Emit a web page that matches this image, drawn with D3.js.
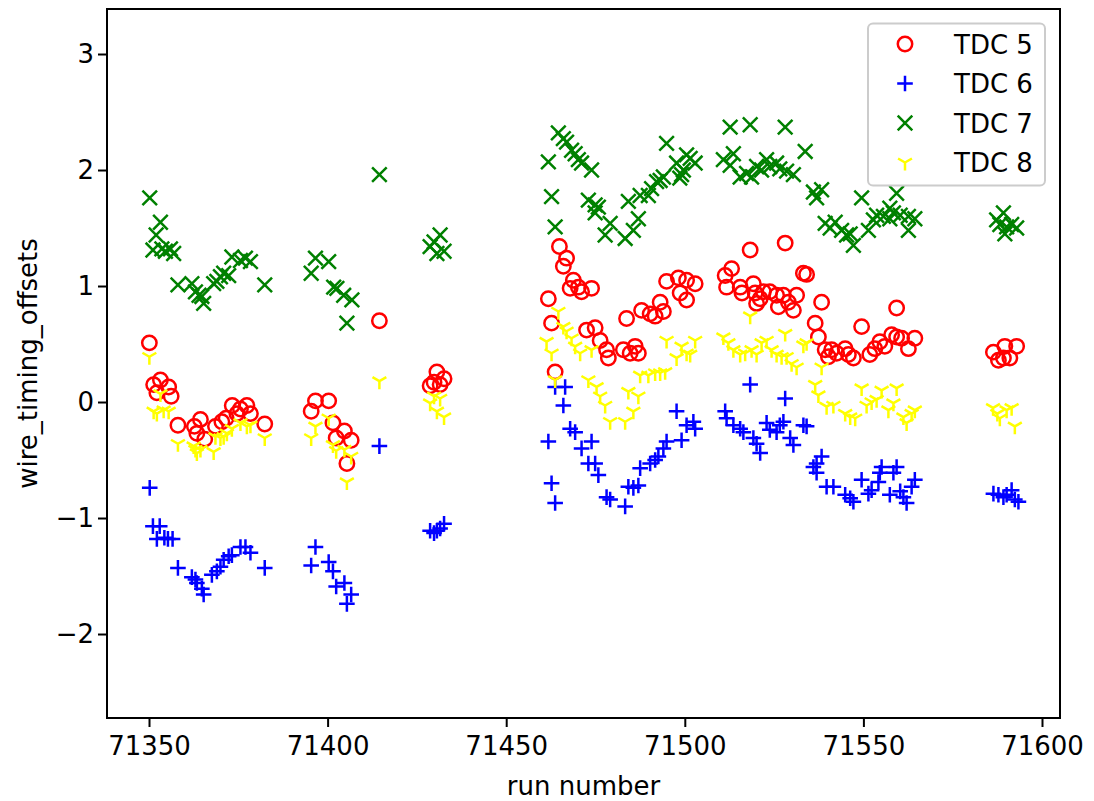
<!DOCTYPE html>
<html>
<head>
<meta charset="utf-8">
<script src="https://cdn.jsdelivr.net/npm/d3@7"></script>
<style>
  html, body { margin: 0; padding: 0; background: #fff; }
  svg { display: block; font-family: "DejaVu Sans", sans-serif; }
</style>
</head>
<body>
<svg id="chart" width="1094" height="801"></svg>
<script>
// ---------- data ----------
const seriesNames = ["TDC 5", "TDC 6", "TDC 7", "TDC 8"];
const xTicks = [71350, 71400, 71450, 71500, 71550, 71600];
const yTicks = [-2, -1, 0, 1, 2, 3];

const runs5 = [71350.1,71351.3,71352.2,71353.2,71355.5,71356.2,71358.1,71362.7,71363.4,71364.4,71365.6,71368.6,71370.4,71371.6,71373.3,71374.6,71375.6,71377.4,71378.4,71382.4,
  71395.4,71396.6,71400.3,71401.5,71402.4,71404.7,71405.4,71406.6,71414.5,
  71428.7,71429.8,71430.6,71431.5,71432.6,
  71461.8,71462.7,71463.7,71464.9,71466,71466.9,71467.9,71468.8,71470.2,71471.1,71472.5,71473.9,71474.9,71476.3,71478.1,71478.6,71482.8,71483.7,71484.7,71486.1,71487,71487.9,71490.3,71491.7,71493.1,71494,71494.9,71498.2,71498.7,71500.5,71500.5,71502.9,
  71511.3,71511.7,71513.1,71515.5,71516,71518.3,71519.2,71519.7,71520.1,71521.1,71522,71523.8,71525.7,71526.2,71527.6,71528.1,71529,71530.4,71531.3,71533.2,71534.1,71536.5,71537.4,71538.3,71539.3,71540.2,71541.1,71542.5,71544.9,71545.8,71547.2,71549.5,71551.8,71553.2,71554.6,71556,71557.9,71559.3,71559.3,71560.7,71562.6,71564.4,
  71586.4,71587.8,71589.2,71589.6,71591,71592.9];
const vals5 = [0.51,0.15,0.08,0.19,0.13,0.05,-0.20,-0.21,-0.27,-0.15,-0.32,-0.21,-0.17,-0.14,-0.03,-0.10,-0.06,-0.03,-0.10,-0.19,
  -0.08,0.01,0.01,-0.18,-0.31,-0.25,-0.53,-0.33,0.70,
  0.14,0.17,0.26,0.15,0.20,
  0.89,0.68,0.26,1.34,1.17,1.24,0.98,1.05,0.99,0.95,0.62,0.98,0.64,0.53,0.45,0.38,0.45,0.72,0.42,0.48,0.42,0.79,0.76,0.74,0.86,0.78,1.04,1.07,0.94,1.05,0.88,1.02,
  1.09,0.99,1.15,0.99,0.94,1.31,1.02,0.94,0.85,0.89,0.95,0.95,0.92,0.82,0.92,1.37,0.86,0.79,0.92,1.11,1.10,0.68,0.56,0.86,0.45,0.39,0.45,0.42,0.46,0.41,0.38,0.65,0.41,0.46,0.52,0.48,0.58,0.81,0.56,0.55,0.46,0.55,
  0.43,0.36,0.38,0.48,0.38,0.48];

const runs6 = [71350.2,71351.1,71352.2,71353,71354.3,71355.3,71356.6,71358.1,71362,71363,71363.4,71364.8,71365.3,71367.6,71369,71370,71370.9,71372.3,71373.2,71375.6,71377,71378.4,71382.4,
  71395.4,71396.6,71400.3,71401.5,71402.4,71404.7,71405.4,71406.6,71414.5,
  71428.7,71429.8,71430.6,71431.5,71432.6,
  71461.8,71462.7,71463.7,71463.7,71466,71466.5,71467.9,71469.3,71471.1,71473,71473.9,71474.9,71475.8,71478.1,71479.1,71483.3,71484.2,71485.6,71487,71487.5,71490.3,71491.7,71492.6,71494,71494.9,71497.7,71499.1,71500.5,71502.4,71502.9,
  71511.3,71511.7,71513.6,71515.5,71516.4,71518.3,71519.2,71520.1,71521.1,71522.9,71523.8,71525.7,71526.6,71527.6,71528.1,71529.5,71530.4,71533.2,71534.1,71536,71536.9,71536.9,71538.3,71539.7,71541.6,71544.9,71546.3,71547.2,71549.5,71551.4,71552.3,71554.2,71554.6,71555.1,71557.4,71558.4,71559.3,71560.3,71561.2,71562.1,71563.5,71564.4,
  71586.4,71587.8,71589.2,71590.1,71591.5,71592.4,71593.4];
const vals6 = [-0.74,-1.07,-1.18,-1.07,-1.17,-1.18,-1.18,-1.43,-1.51,-1.53,-1.56,-1.61,-1.66,-1.49,-1.46,-1.42,-1.36,-1.33,-1.32,-1.25,-1.25,-1.30,-1.43,
  -1.41,-1.25,-1.38,-1.46,-1.59,-1.56,-1.74,-1.66,-0.38,
  -1.11,-1.13,-1.11,-1.09,-1.05,
  -0.34,-0.70,-0.87,0.13,-0.03,0.13,-0.23,-0.26,-0.40,-0.53,-0.34,-0.53,-0.63,-0.82,-0.84,-0.90,-0.73,-0.74,-0.72,-0.57,-0.53,-0.50,-0.47,-0.40,-0.34,-0.08,-0.33,-0.20,-0.17,-0.23,
  -0.08,-0.14,-0.20,-0.23,-0.26,0.15,-0.31,-0.36,-0.44,-0.18,-0.24,-0.26,-0.20,-0.17,0.03,-0.31,-0.37,-0.20,-0.21,-0.56,-0.53,-0.61,-0.47,-0.73,-0.73,-0.80,-0.83,-0.86,-0.67,-0.79,-0.76,-0.69,-0.61,-0.56,-0.80,-0.61,-0.56,-0.77,-0.82,-0.87,-0.73,-0.67,
  -0.79,-0.80,-0.82,-0.80,-0.76,-0.84,-0.86];

const runs7 = [71350.2,71351.1,71352,71353.2,71353.6,71354.6,71356,71356.9,71358.1,71362,71363,71364,71364.8,71365.3,71368.1,71369,71370,71370.9,71372.3,71373.2,71375.6,71377,71378.4,71382.4,
  71395.4,71396.6,71400.3,71401.7,71402.6,71404.5,71405.4,71406.8,71414.5,
  71428.7,71429.8,71430.6,71431.5,71432.6,
  71461.8,71462.7,71463.7,71464.6,71466,71466.9,71468.3,71469.3,71470.2,71471.1,71473,71473.9,71474.9,71474.9,71475.8,71477.7,71479.1,71483.3,71484.2,71485.6,71487,71487.5,71489.8,71490.7,71492.1,71493.1,71494,71494.9,71497.7,71498.6,71499.1,71499.6,71500.5,71501.5,71502.9,
  71510.8,71512.7,71512.7,71513.6,71515.5,71517.3,71518.3,71518.7,71520.1,71521.5,71522.9,71523.8,71525.7,71526.6,71528.1,71528.5,71530.4,71533.7,71536,71536.9,71538.3,71539.3,71540.7,71542.1,71543.9,71545.3,71546.3,71547.2,71549.5,71551.4,71552.8,71553.7,71555.6,71557.4,71557.4,71558.4,71559.3,71560.3,71562.6,71562.6,71564.4,
  71587.3,71588.2,71589.2,71589.6,71590.1,71591.5,71592.9];
const vals7 = [1.76,1.31,1.44,1.55,1.32,1.30,1.32,1.28,1.01,1.02,0.95,0.92,0.91,0.85,1.02,1.04,1.08,1.11,1.09,1.25,1.22,1.24,1.21,1.01,
  1.11,1.24,1.21,0.99,0.98,0.92,0.68,0.88,1.96,
  1.34,1.38,1.28,1.44,1.30,
  2.07,1.77,1.51,2.32,2.27,2.24,2.17,2.14,2.09,2.06,1.74,2.00,1.70,1.63,1.68,1.44,1.54,1.41,1.73,1.48,1.58,1.78,1.78,1.84,1.90,1.91,1.94,2.23,2.06,1.93,1.96,2.00,2.13,2.10,2.06,
  2.09,2.37,2.04,2.14,1.94,1.97,2.39,1.94,2.03,2.00,2.09,2.03,2.06,2.01,2.37,1.99,1.96,2.16,1.81,1.76,1.83,1.54,1.50,1.55,1.48,1.44,1.45,1.35,1.76,1.48,1.57,1.61,1.60,1.58,1.67,1.63,1.80,1.61,1.60,1.48,1.58,
  1.57,1.53,1.63,1.45,1.51,1.53,1.50];

const runs8 = [71350.1,71351.3,71352.2,71353.2,71354.1,71355.5,71358.1,71362.5,71363,71363.4,71364.4,71368.1,71368.6,71370,71370.9,71371.8,71373.2,71375.6,71377.4,71378.4,71382.4,
  71395.4,71396.6,71400.3,71401.5,71402.4,71404.7,71405.4,71406.6,71414.5,
  71428.7,71429.8,71430.6,71431.5,71432.6,
  71461.3,71462.7,71463.7,71464.6,71466,71466.9,71468.3,71469.3,71470.7,71473,71473.9,71475.3,71476.3,71477.7,71479.1,71483.3,71484.2,71485.6,71487,71487.5,71489.8,71491.7,71493.1,71494.5,71494.9,71497.7,71499.1,71500.5,71501.5,71502.9,
  71510.8,71512.2,71513.6,71515.5,71516.9,71518.3,71518.7,71520.1,71521.5,71522.9,71524.3,71525.7,71527.1,71528.1,71528.5,71529.9,71531.3,71533.2,71534.1,71536.5,71537.4,71538.3,71539.7,71541.6,71544.9,71546.3,71547.7,71549.5,71550.9,71552.3,71553.7,71555.1,71557,71558.4,71559.3,71561.2,71562.1,71563.5,71564.4,
  71586.3,71587.5,71588.2,71590.1,71591.5,71592.4];
const vals8 = [0.39,-0.08,-0.10,0.07,-0.07,-0.08,-0.36,-0.38,-0.41,-0.44,-0.41,-0.43,-0.30,-0.31,-0.30,-0.27,-0.23,-0.18,-0.21,-0.20,-0.31,
  -0.31,-0.21,-0.14,-0.37,-0.42,-0.41,-0.69,-0.47,0.18,
  -0.01,0.05,-0.08,0.03,-0.13,
  0.52,0.42,0.19,0.78,0.65,0.61,0.55,0.48,0.42,0.19,0.45,0.13,0.05,-0.03,-0.17,-0.17,0.09,-0.08,0.05,0.23,0.23,0.25,0.25,0.26,0.53,0.38,0.48,0.42,0.41,0.53,
  0.56,0.51,0.45,0.41,0.42,0.74,0.45,0.41,0.51,0.53,0.45,0.41,0.39,0.59,0.39,0.33,0.30,0.49,0.51,0.15,0.06,0.30,-0.04,-0.03,-0.10,-0.13,-0.14,0.12,-0.03,0.00,0.02,0.10,-0.07,-0.01,0.12,-0.13,-0.18,-0.10,-0.07,
  -0.05,-0.10,-0.14,-0.07,-0.05,-0.21];

const seriesColors = ["#ff0000", "#0000ff", "#008000", "#ffff00"];
const seriesShapes = ["circle", "plus", "x", "tri"];

// ---------- layout ----------
const plot = { left: 107, right: 1060, top: 9, bottom: 718 };
const svg = d3.select("#chart");

const x = d3.scaleLinear().domain([71338.24, 71605.04]).range([plot.left, plot.right]);
const y = d3.scaleLinear().domain([-2.724, 3.388]).range([plot.bottom, plot.top]);

const circ = d3.path(); circ.arc(0, 0, 7.2, 0, 2 * Math.PI); circ.closePath();
const markerPath = {
  circle: circ.toString(),
  plus: "M-7.8,0H7.8M0,-7.8V7.8",
  x: "M-7.3,-7.3L7.3,7.3M-7.3,7.3L7.3,-7.3",
  tri: "M0,0V8M0,0L-6.93,-4M0,0L6.93,-4"
};

const series = [
  { runs: runs5, vals: vals5 },
  { runs: runs6, vals: vals6 },
  { runs: runs7, vals: vals7 },
  { runs: runs8, vals: vals8 }
];

// points
const gPts = svg.append("g");
series.forEach((s, i) => {
  const pts = s.runs.map((r, k) => ({ r, v: s.vals[k] }));
  gPts.append("g")
    .selectAll("path")
    .data(pts)
    .join("path")
    .attr("d", markerPath[seriesShapes[i]])
    .attr("transform", d => `translate(${x(d.r)},${y(d.v)})`)
    .attr("fill", "none")
    .attr("stroke", seriesColors[i])
    .attr("stroke-width", 2.5);
});

// frame
svg.append("rect")
  .attr("x", plot.left).attr("y", plot.top)
  .attr("width", plot.right - plot.left).attr("height", plot.bottom - plot.top)
  .attr("fill", "none").attr("stroke", "#000").attr("stroke-width", 2);

// axes
const fmtMinus = d => (d < 0 ? "\u2212" + Math.abs(d) : String(d));
const xAxis = svg.append("g")
  .attr("transform", `translate(0,${plot.bottom})`)
  .call(d3.axisBottom(x).tickValues(xTicks).tickFormat(d3.format("d")).tickSize(9).tickPadding(10));
const yAxis = svg.append("g")
  .attr("transform", `translate(${plot.left},0)`)
  .call(d3.axisLeft(y).tickValues(yTicks).tickFormat(fmtMinus).tickSize(9).tickPadding(4));
[xAxis, yAxis].forEach(g => {
  g.select(".domain").remove();
  g.selectAll(".tick line").attr("stroke", "#000").attr("stroke-width", 2);
  g.selectAll(".tick text").attr("font-size", 26).attr("font-family", "DejaVu Sans").attr("fill", "#000");
});

// axis labels
svg.append("text")
  .attr("x", (plot.left + plot.right) / 2).attr("y", 795)
  .attr("text-anchor", "middle").attr("font-size", 26).text("run number");
svg.append("text")
  .attr("transform", `translate(37,${(plot.top + plot.bottom) / 2}) rotate(-90)`)
  .attr("text-anchor", "middle").attr("font-size", 26).text("wire_timing_offsets");

// legend
const lg = svg.append("g");
lg.append("rect")
  .attr("x", 868).attr("y", 23.5).attr("width", 177).attr("height", 162).attr("rx", 5)
  .attr("fill", "#fff").attr("fill-opacity", 0.8).attr("stroke", "#cccccc").attr("stroke-width", 2);
const legRows = [44, 83.5, 123, 162.5];
seriesNames.forEach((name, i) => {
  lg.append("path")
    .attr("d", markerPath[seriesShapes[i]])
    .attr("transform", `translate(905,${legRows[i]})`)
    .attr("fill", "none").attr("stroke", seriesColors[i]).attr("stroke-width", 2.5);
  lg.append("text")
    .attr("x", 954).attr("y", legRows[i] + 9.5)
    .attr("font-size", 26).text(name);
});
</script>
</body>
</html>
